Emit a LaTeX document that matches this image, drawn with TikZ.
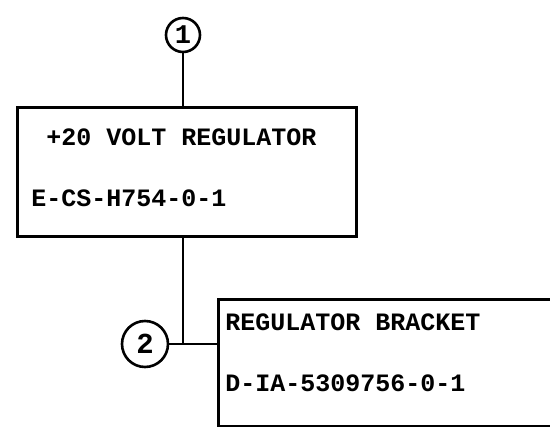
\documentclass[tikz,border=0pt]{standalone}
\usepackage{fontspec}
\setmonofont{Liberation Mono}
\begin{document}
\begin{tikzpicture}[x=1pt,y=-1pt,
  line width=2.8pt,
  lbl/.style={font=\ttfamily\bfseries\fontsize{25}{28}\selectfont, anchor=west, inner sep=0pt},
  bubble/.style={circle, draw, line width=2.6pt, inner sep=0pt, font=\ttfamily\bfseries},
  blk/.style={draw, line width=2.8pt, inner sep=0pt}]
\clip (0,0) rectangle (550,427);
\fill[white] (0,0) rectangle (550,427);
% boxes
\node[blk, minimum width=339pt, minimum height=129pt, anchor=north west] (b1) at (16,106) {};
\node[blk, minimum width=345pt, minimum height=127pt, anchor=north west] (b2) at (217,298) {};
% texts
\node[lbl] (t1) at (45,137) {+20 VOLT REGULATOR};
\node[lbl] (t2) at (30,198) {E-CS-H754-0-1};
\node[lbl] (t3) at (224,322) {REGULATOR BRACKET};
\node[lbl] (t4) at (224,383) {D-IA-5309756-0-1};
% bubbles
\node[bubble, minimum size=34pt, font=\ttfamily\bfseries\fontsize{27}{29}\selectfont] (c1) at (183,35) {1};
\node[bubble, minimum size=46pt, font=\ttfamily\bfseries\fontsize{29}{31}\selectfont] (c2) at (145,344) {2};
% connectors
\coordinate (j) at (183,344);
\draw (c1.south) -- (c1.south |- b1.north);
\draw (b1.south -| j) -- (j);
\draw (c2.east) -- (b2.west |- c2.east);
\end{tikzpicture}
\end{document}
